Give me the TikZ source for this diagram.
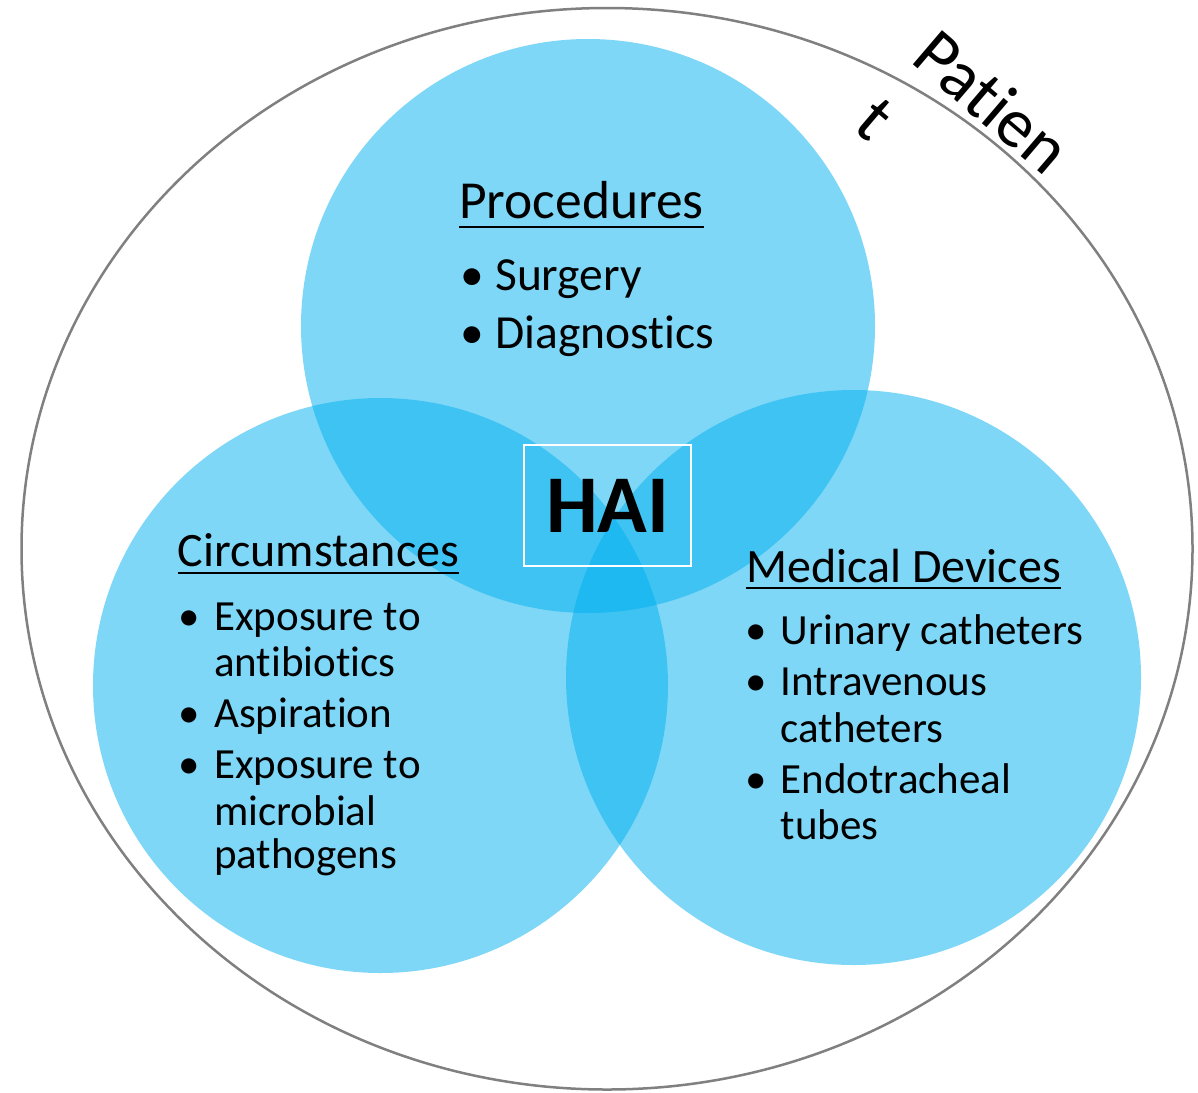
\documentclass[tikz,border=0pt]{standalone}
\usepackage{fontspec}
\setmainfont{Carlito}[Ligatures=NoCommon,Contextuals=NoAlternate]
\definecolor{vennblue}{RGB}{0,176,240}
\definecolor{rimgray}{RGB}{128,128,128}
\begin{document}
\begin{tikzpicture}[x=1pt,y=-1pt,
  set/.style={fill=vennblue,fill opacity=0.5,draw=none},
  head/.style={inner sep=0pt,anchor=base west,font=\fontsize{48}{58}\selectfont},
  bighead/.style={head,font=\fontsize{53.5}{64}\selectfont},
  item/.style={inner sep=0pt,anchor=base west,font=\fontsize{43}{52}\selectfont},
  bigitem/.style={item,font=\fontsize{47.5}{57}\selectfont},
  dot/.style={inner sep=0pt,anchor=base,font=\fontsize{43}{52}\selectfont},
  bigdot/.style={dot,font=\fontsize{47.5}{57}\selectfont},
  rule/.style={line width=2.4pt},
  tag/.style={inner sep=0pt,anchor=base west,rotate=-40.5,font=\fontsize{70}{89}\selectfont}]
\useasboundingbox (0,0) rectangle (1198,1092);

% patient boundary
\draw[rimgray,line width=2.5pt,fill=white] (607,548.75) ellipse [x radius=585.5, y radius=540.75];
\node[tag] (pat) at (909,61) {\begin{tabular}[t]{@{}l@{}}Patien\\t\end{tabular}};

% the three risk-factor sets
\fill[set] (588,326) circle [radius=287];
\fill[set] (380.5,685.5) circle [radius=287.5];
\fill[set] (853.5,677.5) circle [radius=287.5];

% centre label
\node[draw=white,line width=2pt,minimum width=167pt,minimum height=120.4pt,inner sep=0pt,
      font=\fontsize{82}{96}\selectfont\bfseries] (hai) at (607.8,505.5) {HAI};

% procedures
\node[bighead] (proc) at (459,218) {Procedures};
\draw[rule] ([yshift=-9pt]proc.base west) -- ([yshift=-9pt]proc.base east);
\node[bigdot] (pb1) at (472,290) {•};
\node[bigitem] (p1) at (495,290) {Surgery};
\node[bigdot] (pb2) at (472,348) {•};
\node[bigitem] (p2) at (495,348) {Diagnostics};

% circumstances
\node[head] (circ) at (177.5,566) {Circumstances};
\draw[rule] ([yshift=-7pt]circ.base west) -- ([yshift=-7pt]circ.base east);
\node[dot] (cb1) at (189,630) {•};
\node[item] (c1) at (214,630) {Exposure to};
\node[item] (c1b) at (214,676) {antibiotics};
\node[dot] (cb2) at (189,727) {•};
\node[item] (c2) at (214,727) {Aspiration};
\node[dot] (cb3) at (189,778) {•};
\node[item] (c3) at (214,778) {Exposure to};
\node[item] (c3b) at (214,825) {microbial};
\node[item] (c3c) at (214,868) {pathogens};

% medical devices
\node[head] (med) at (746,582) {Medical Devices};
\draw[rule] ([yshift=-6pt]med.base west) -- ([yshift=-6pt]med.base east);
\node[dot] (mb1) at (756,644) {•};
\node[item] (m1) at (780.5,644) {Urinary catheters};
\node[dot] (mb2) at (756,695) {•};
\node[item] (m2) at (780.5,695) {Intravenous};
\node[item] (m2b) at (780.5,742) {catheters};
\node[dot] (mb3) at (756,793) {•};
\node[item] (m3) at (780.5,793) {Endotracheal};
\node[item] (m3b) at (780.5,839) {tubes};
\end{tikzpicture}
\end{document}
